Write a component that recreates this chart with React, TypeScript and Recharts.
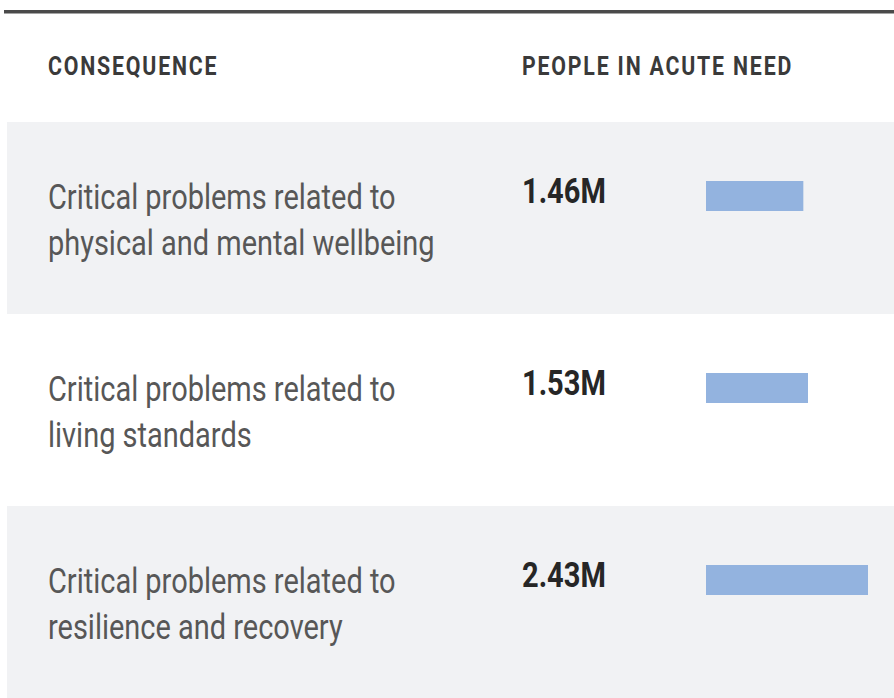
import { BarChart, Bar, XAxis, YAxis, LabelList, Rectangle } from "recharts";

const consequenceLines = [
  ["Critical problems related to", "physical and mental wellbeing"],
  ["Critical problems related to", "living standards"],
  ["Critical problems related to", "resilience and recovery"],
];
const peopleInNeed = [1.46, 1.53, 2.43];
const valueLabels = ["1.46M", "1.53M", "2.43M"];
const headers = ["CONSEQUENCE", "PEOPLE IN ACUTE NEED"];

const W = 894;
const H = 698;
const TOP = 122;
const BAND = (H - TOP) / consequenceLines.length;
const TEXT_X = 48;
const VALUE_X = 522;
const FONT = "Roboto, 'Noto Sans', sans-serif";

const rows = consequenceLines.map((lines, i) => ({
  name: lines.join(" "),
  value: peopleInNeed[i],
  label: valueLabels[i],
}));

function RowTick(props: any) {
  const { y, index } = props;
  const lines = consequenceLines[index] ?? [];
  return (
    <g>
      {lines.map((line, i) => (
        <text
          key={i}
          transform={`translate(${TEXT_X}, ${y - 9 + i * 46}) scale(0.805, 1)`}
          fontFamily={FONT}
          fontSize={36}
          fill="#575757"
        >
          {line}
        </text>
      ))}
    </g>
  );
}

function ValueLabel(props: any) {
  const { y, height, value } = props;
  const cy = y + height / 2;
  return (
    <text
      transform={`translate(${VALUE_X}, ${cy - 15}) scale(0.83, 1)`}
      fontFamily={FONT}
      fontWeight={700}
      fontSize={35}
      fill="#262626"
    >
      {value}
    </text>
  );
}

function ShiftedBar(props: any) {
  const { x, y, width, height, fill } = props;
  return <Rectangle x={x} y={y - 22} width={width} height={height} fill={fill} />;
}

export default function App() {
  return (
    <div style={{ position: "absolute", left: 0, top: 0, width: W, height: H, background: "#fff" }}>
      {/* alternating row backgrounds, behind the chart */}
      <svg width={W} height={H} style={{ position: "absolute", left: 0, top: 0 }}>
        {rows.map((r, i) =>
          i % 2 === 0 ? (
            <rect key={r.label} x={7} y={TOP + i * BAND} width={W - 7} height={BAND} fill="#f1f2f4" />
          ) : null
        )}
        <rect x={4} y={10} width={W - 4} height={3.5} fill="#4a4a4a" />
        {headers.map((h, i) => (
          <text
            key={h}
            transform={`translate(${i === 0 ? TEXT_X : VALUE_X}, 75) scale(0.82, 1)`}
            fontFamily={FONT}
            fontWeight={700}
            fontSize={26}
            letterSpacing={2.2}
            fill="#3a3a3a"
          >
            {h}
          </text>
        ))}
      </svg>
      <BarChart
        width={W}
        height={H}
        layout="vertical"
        data={rows}
        margin={{ top: TOP, right: 26, bottom: 0, left: 0 }}
        barCategoryGap={0}
      >
        <XAxis type="number" hide domain={[0, "dataMax"]} />
        <YAxis
          type="category"
          dataKey="name"
          width={706}
          axisLine={false}
          tickLine={false}
          interval={0}
          tick={<RowTick />}
        />
        <Bar dataKey="value" barSize={30} fill="#93b3df" shape={<ShiftedBar />} isAnimationActive={false}>
          <LabelList dataKey="label" content={<ValueLabel />} />
        </Bar>
      </BarChart>
    </div>
  );
}
